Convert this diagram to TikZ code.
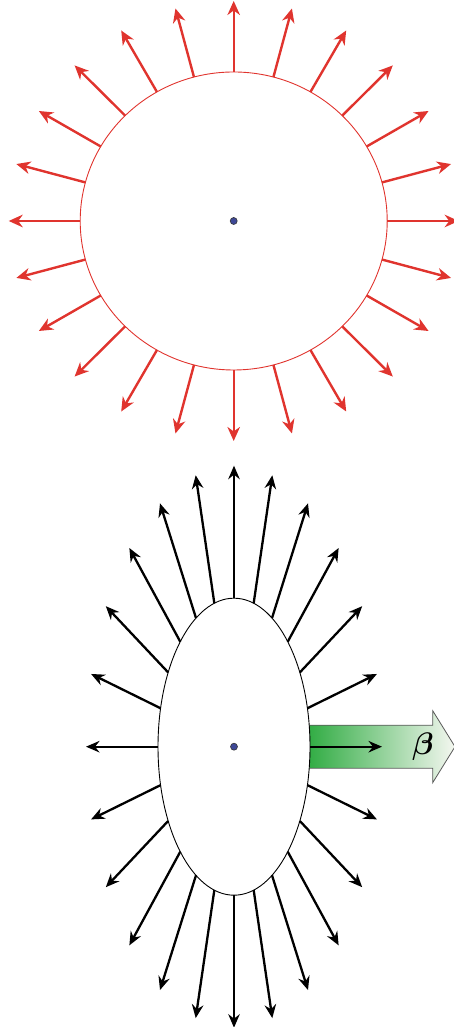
\documentclass[tikz,border=0pt]{standalone}
\usetikzlibrary{arrows.meta}
\usepackage{amsmath,bm}
\definecolor{fieldred}{RGB}{224,52,46}
\definecolor{dotblue}{RGB}{62,72,150}
\definecolor{betagreen}{RGB}{38,168,58}
\definecolor{betapale}{RGB}{244,247,240}
\tikzset{
  redfield/.style={draw=fieldred, line width=2.4pt, -{Stealth[length=14pt,width=12.5pt,inset=4.5pt]}},
  blackfield/.style={draw=black, line width=2.3pt, -{Stealth[length=13.5pt,width=11.5pt,inset=4.5pt]}},
  chargedot/.style={circle, fill=dotblue, draw=black!80, line width=0.6pt, inner sep=0pt, minimum size=7pt},
  betaarrow/.style={draw=black!65, line width=0.8pt, left color=betagreen, right color=betapale},
}
\begin{document}
\begin{tikzpicture}[x=1pt,y=1pt]
\useasboundingbox (0,0) rectangle (454,1027);
\coordinate (top) at (233.7,806);
\coordinate (bot) at (234,280.3);

% ---------- top: charge at rest ----------
\draw[fieldred, line width=0.9pt] (top) ellipse [x radius=153.5, y radius=149];
\foreach \a in {0,15,...,345} {
  \coordinate (ts\a) at ([shift={(\a:153.5 and 149)}]top);
  \coordinate (te\a) at ([shift={(\a:225 and 220)}]top);
  \draw[redfield] (ts\a) -- (te\a);
}
\node[chargedot] (q1) at (top) {};

% ---------- bottom: moving charge ----------
\coordinate (bb) at (300,280.3);
\draw[betaarrow] (bb) -- ++(0,21.5) -- ++(132.7,0) -- ++(0,14.5) -- ++(22.3,-36) -- ++(-22.3,-36) -- ++(0,14.5) -- ++(-132.7,0) -- cycle;
\node[font=\Huge] (beta) at (423,280.5) {\scalebox{1.25}{$\bm{\beta}$}};

\draw[black, line width=0.9pt, fill=white] (bot) ellipse [x radius=76, y radius=148.5];
\foreach \a in {0,15,...,345} {
  \coordinate (bs\a) at ([shift={(\a:76 and 148.5)}]bot);
  \coordinate (be\a) at ([shift={(\a:148 and 281)}]bot);
  \draw[blackfield] (bs\a) -- (be\a);
}
\node[chargedot] (q2) at (bot) {};
\end{tikzpicture}
\end{document}
